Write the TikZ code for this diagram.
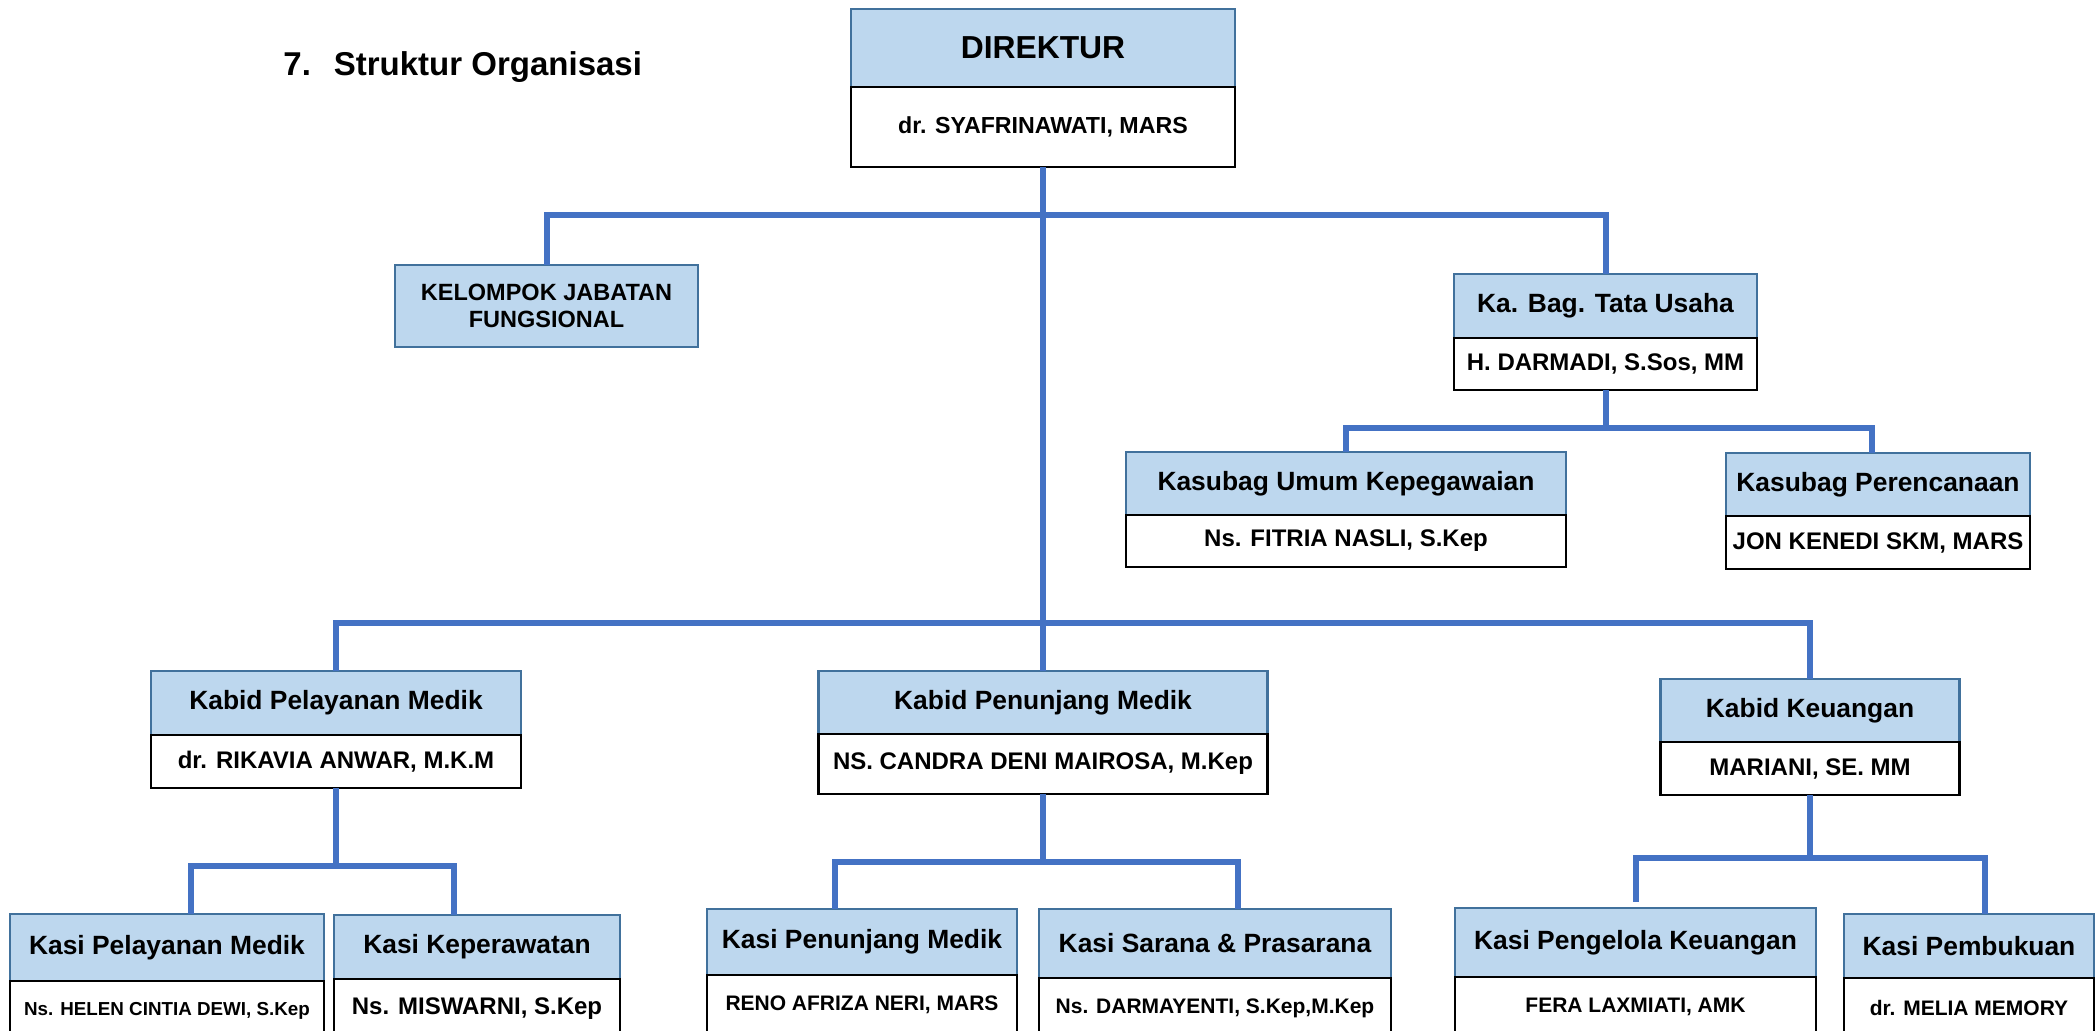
\documentclass[tikz,border=0pt]{standalone}
\usepackage{fontspec}
\setmainfont{Liberation Sans}
\usepackage{tikz}
\usetikzlibrary{positioning}
\definecolor{hdfill}{RGB}{189,215,238}
\definecolor{hdline}{RGB}{65,113,156}
\definecolor{linkblue}{RGB}{68,114,196}
\newcommand{\tfnt}{\fontsize{16.5}{19}\selectfont\bfseries}
\newcommand{\dfnt}{\fontsize{15.9}{18}\selectfont\bfseries}
\newcommand{\hfnt}{\fontsize{13.2}{15}\selectfont\bfseries}
\newcommand{\nfnt}{\fontsize{12}{14}\selectfont\bfseries}
\newcommand{\sfnt}{\fontsize{10.5}{12}\selectfont\bfseries}

\begin{document}
\begin{tikzpicture}[x=0.5pt,y=-0.5pt,
  head/.style={draw=hdline,fill=hdfill,line width=1.2pt,inner sep=0pt,outer sep=0pt,font=\hfnt},
  pers/.style={draw=black,fill=white,line width=1.4pt,inner sep=0pt,outer sep=0pt,font=\nfnt},
  link/.style={draw=linkblue,line width=3pt}]
\clip (0,0) rectangle (2096,1030);
\node[anchor=base west,inner sep=0pt,font=\tfnt] (title) at (283,75) {7.\hspace{11.5pt}Struktur Organisasi};

% direktur
\node[head,minimum width=192pt,minimum height=39pt,font=\dfnt] (dir) at (1043,48) {DIREKTUR};
\node[pers,minimum width=192pt,minimum height=40pt,below=0pt of dir,font=\fontsize{11.6}{13}\selectfont\bfseries] (dirp) {dr. SYAFRINAWATI, MARS};

% staf
\node[head,minimum width=151.5pt,minimum height=41pt,align=center,font=\fontsize{11.75}{13.4}\selectfont\bfseries] (kjf) at (546.5,306) {KELOMPOK JABATAN\\FUNGSIONAL};
\node[head,minimum width=151.5pt,minimum height=32pt] (tu) at (1605.5,306) {Ka. Bag. Tata Usaha};
\node[pers,minimum width=151.5pt,minimum height=26pt,below=0pt of tu] (tup) {H. DARMADI, S.Sos, MM};
\node[head,minimum width=220pt,minimum height=31.5pt] (umum) at (1346,483.5) {Kasubag Umum Kepegawaian};
\node[pers,minimum width=220pt,minimum height=26pt,below=0pt of umum] (umump) {Ns. FITRIA NASLI, S.Kep};
\node[head,minimum width=152pt,minimum height=31.5pt] (ren) at (1878,484.5) {Kasubag Perencanaan};
\node[pers,minimum width=152pt,minimum height=26.5pt,below=0pt of ren] (renp) {JON KENEDI SKM, MARS};

% kabid
\node[head,minimum width=185pt,minimum height=32pt] (kpm) at (336,703) {Kabid Pelayanan Medik};
\node[pers,minimum width=185pt,minimum height=26.5pt,below=0pt of kpm] (kpmp) {dr. RIKAVIA ANWAR, M.K.M};
\node[head,minimum width=224.5pt,minimum height=31.5pt] (kpj) at (1043,702.5) {Kabid Penunjang Medik};
\node[pers,minimum width=224.5pt,minimum height=30pt,below=0pt of kpj] (kpjp) {NS. CANDRA DENI MAIROSA, M.Kep};
\node[head,minimum width=149.5pt,minimum height=31.5pt] (kku) at (1810,710.5) {Kabid Keuangan};
\node[pers,minimum width=149.5pt,minimum height=26.5pt,below=0pt of kku] (kkup) {MARIANI, SE. MM};

% kasi
\node[head,minimum width=157pt,minimum height=33.5pt] (kspm) at (167,947.5) {Kasi Pelayanan Medik};
\node[pers,minimum width=157pt,minimum height=30pt,below=0pt of kspm,font=\fontsize{9.4}{11}\selectfont\bfseries] (kspmp) {Ns. HELEN CINTIA DEWI, S.Kep};
\node[head,minimum width=143pt,minimum height=32pt] (ksk) at (477,947) {Kasi Keperawatan};
\node[pers,minimum width=143pt,minimum height=30pt,below=0pt of ksk] (kskp) {Ns. MISWARNI, S.Kep};
\node[head,minimum width=155pt,minimum height=33pt] (kspj) at (862,942) {Kasi Penunjang Medik};
\node[pers,minimum width=155pt,minimum height=30pt,below=0pt of kspj,font=\sfnt] (kspjp) {RENO AFRIZA NERI, MARS};
\node[head,minimum width=176pt,minimum height=34.5pt] (kssp) at (1215,943.5) {Kasi Sarana \& Prasarana};
\node[pers,minimum width=176pt,minimum height=30pt,below=0pt of kssp,font=\sfnt] (ksspp) {Ns. DARMAYENTI, S.Kep,M.Kep};
\node[head,minimum width=180.5pt,minimum height=34.5pt] (kspk) at (1635.5,942.5) {Kasi Pengelola Keuangan};
\node[pers,minimum width=180.5pt,minimum height=30pt,below=0pt of kspk,font=\sfnt] (kspkp) {FERA LAXMIATI, AMK};
\node[head,minimum width=125pt,minimum height=32pt] (kspb) at (1969,946) {Kasi Pembukuan};
\node[pers,minimum width=125pt,minimum height=30pt,below=0pt of kspb,font=\sfnt] (kspbp) {dr. MELIA MEMORY};

% garis
\coordinate (b1) at (1043,215);
\coordinate (b2) at (1043,623);
\draw[link] (dirp.south) -- (kpj.north);
\draw[link] (b1) -| (kjf.north);
\draw[link] (b1) -| (tu.north);
\draw[link] (b2) -| (kpm.north);
\draw[link] (b2) -| (kku.north);
\draw[link] (tup.south) -- ++(0,38) coordinate (b3);
\draw[link] (b3) -| (umum.north);
\draw[link] (b3) -| ([xshift=-3pt]ren.north);
\draw[link] (kpmp.south) -- ++(0,78) coordinate (b4);
\draw[link] (b4) -| ([xshift=12pt]kspm.north);
\draw[link] (b4) -| ([xshift=-11.5pt]ksk.north);
\draw[link] (kpjp.south) -- ++(0,68) coordinate (b5);
\draw[link] (b5) -| ([xshift=-13.5pt]kspj.north);
\draw[link] (b5) -| ([xshift=11.5pt]kssp.north);
\draw[link] (kkup.south) -- ++(0,63) coordinate (b6);
\draw[link,shorten >=3pt] (b6) -| (kspk.north);
\draw[link] (b6) -| ([xshift=8pt]kspb.north);
\end{tikzpicture}
\end{document}
